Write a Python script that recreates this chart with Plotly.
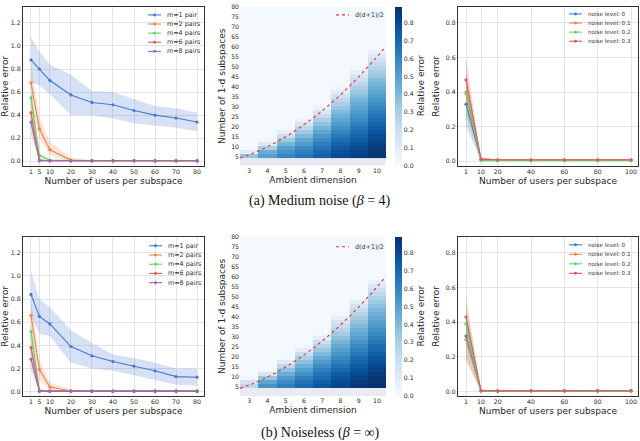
import plotly.graph_objects as go

W, H = 640, 441

# ---- left panels: relative error vs users per subspace (one curve per m)
users = [1, 5, 10, 20, 30, 40, 50, 60, 70, 80]
pair_names = ["m=1 pair", "m=2 pairs", "m=4 pairs", "m=6 pairs", "m=8 pairs"]

med_mean = [
    [0.88, 0.80, 0.70, 0.575, 0.51, 0.49, 0.44, 0.40, 0.375, 0.34],
    [0.68, 0.28, 0.10, 0.01, 0.005, 0.005, 0.005, 0.005, 0.005, 0.005],
    [0.55, 0.05, 0.01, 0.004, 0.004, 0.004, 0.004, 0.004, 0.004, 0.004],
    [0.42, 0.01, 0.004, 0.004, 0.004, 0.004, 0.004, 0.004, 0.004, 0.004],
    [0.34, 0.004, 0.004, 0.004, 0.004, 0.004, 0.004, 0.004, 0.004, 0.004],
]
med_hi = [
    [1.08, 0.95, 0.84, 0.75, 0.61, 0.60, 0.54, 0.48, 0.46, 0.42],
    [0.85, 0.38, 0.17, 0.03, 0.01, 0.01, 0.01, 0.01, 0.01, 0.01],
    [0.70, 0.08, 0.015, 0.006, 0.006, 0.006, 0.006, 0.006, 0.006, 0.006],
    [0.55, 0.02, 0.006, 0.006, 0.006, 0.006, 0.006, 0.006, 0.006, 0.006],
    [0.46, 0.01, 0.006, 0.006, 0.006, 0.006, 0.006, 0.006, 0.006, 0.006],
]
med_lo = [
    [0.68, 0.66, 0.58, 0.40, 0.40, 0.37, 0.33, 0.31, 0.29, 0.26],
    [0.50, 0.20, 0.05, 0.0, 0.0, 0.0, 0.0, 0.0, 0.0, 0.0],
    [0.40, 0.02, 0.0, 0.0, 0.0, 0.0, 0.0, 0.0, 0.0, 0.0],
    [0.30, 0.0, 0.0, 0.0, 0.0, 0.0, 0.0, 0.0, 0.0, 0.0],
    [0.22, 0.0, 0.0, 0.0, 0.0, 0.0, 0.0, 0.0, 0.0, 0.0],
]

clean_mean = [
    [0.84, 0.65, 0.585, 0.39, 0.31, 0.26, 0.22, 0.18, 0.13, 0.125],
    [0.66, 0.19, 0.04, 0.005, 0.004, 0.004, 0.004, 0.004, 0.004, 0.004],
    [0.52, 0.01, 0.004, 0.004, 0.004, 0.004, 0.004, 0.004, 0.004, 0.004],
    [0.38, 0.004, 0.004, 0.004, 0.004, 0.004, 0.004, 0.004, 0.004, 0.004],
    [0.28, 0.004, 0.004, 0.004, 0.004, 0.004, 0.004, 0.004, 0.004, 0.004],
]
clean_hi = [
    [1.04, 0.80, 0.73, 0.53, 0.42, 0.32, 0.29, 0.25, 0.20, 0.20],
    [0.80, 0.28, 0.08, 0.02, 0.006, 0.006, 0.006, 0.006, 0.006, 0.006],
    [0.65, 0.03, 0.006, 0.006, 0.006, 0.006, 0.006, 0.006, 0.006, 0.006],
    [0.50, 0.01, 0.006, 0.006, 0.006, 0.006, 0.006, 0.006, 0.006, 0.006],
    [0.38, 0.01, 0.006, 0.006, 0.006, 0.006, 0.006, 0.006, 0.006, 0.006],
]
clean_lo = [
    [0.65, 0.50, 0.48, 0.25, 0.20, 0.18, 0.14, 0.10, 0.06, 0.05],
    [0.50, 0.10, 0.01, 0.0, 0.0, 0.0, 0.0, 0.0, 0.0, 0.0],
    [0.38, 0.0, 0.0, 0.0, 0.0, 0.0, 0.0, 0.0, 0.0, 0.0],
    [0.26, 0.0, 0.0, 0.0, 0.0, 0.0, 0.0, 0.0, 0.0, 0.0],
    [0.18, 0.0, 0.0, 0.0, 0.0, 0.0, 0.0, 0.0, 0.0, 0.0],
]

# ---- right panels: relative error vs users per subspace (one curve per noise level)
users_r = [1, 10, 20, 40, 60, 80, 100]
noise_names = ["noise level: 0", "noise level: 0.1", "noise level: 0.2", "noise level: 0.3"]

med_r_mean = [
    [0.33, 0.01, 0.005, 0.005, 0.005, 0.005, 0.005],
    [0.40, 0.012, 0.008, 0.008, 0.008, 0.008, 0.008],
    [0.39, 0.005, 0.005, 0.005, 0.005, 0.005, 0.005],
    [0.47, 0.012, 0.008, 0.008, 0.008, 0.008, 0.008],
]
med_r_hi = [
    [0.45, 0.02, 0.008, 0.008, 0.008, 0.008, 0.008],
    [0.53, 0.02, 0.01, 0.01, 0.01, 0.01, 0.01],
    [0.52, 0.015, 0.008, 0.008, 0.008, 0.008, 0.008],
    [0.60, 0.02, 0.01, 0.01, 0.01, 0.01, 0.01],
]
med_r_lo = [
    [0.20, 0.0, 0.0, 0.0, 0.0, 0.0, 0.0],
    [0.27, 0.005, 0.005, 0.005, 0.005, 0.005, 0.005],
    [0.26, 0.0, 0.0, 0.0, 0.0, 0.0, 0.0],
    [0.34, 0.005, 0.005, 0.005, 0.005, 0.005, 0.005],
]

clean_r_mean = [
    [0.32, 0.004, 0.003, 0.004, 0.004, 0.004, 0.004],
    [0.30, 0.006, 0.004, 0.005, 0.005, 0.005, 0.005],
    [0.39, 0.004, 0.003, 0.004, 0.004, 0.004, 0.004],
    [0.43, 0.006, 0.004, 0.005, 0.005, 0.005, 0.005],
]
clean_r_hi = [
    [0.45, 0.01, 0.006, 0.006, 0.006, 0.006, 0.006],
    [0.42, 0.012, 0.006, 0.006, 0.006, 0.006, 0.006],
    [0.52, 0.01, 0.006, 0.006, 0.006, 0.006, 0.006],
    [0.55, 0.012, 0.006, 0.006, 0.006, 0.006, 0.006],
]
clean_r_lo = [
    [0.19, 0.0, 0.0, 0.0, 0.0, 0.0, 0.0],
    [0.17, 0.0, 0.0, 0.0, 0.0, 0.0, 0.0],
    [0.26, 0.0, 0.0, 0.0, 0.0, 0.0, 0.0],
    [0.30, 0.0, 0.0, 0.0, 0.0, 0.0, 0.0],
]

# ---- middle panels: heatmap, ambient dimension vs number of 1-d subspaces
dims = [3, 4, 5, 6, 7, 8, 9, 10]
n_sub = [5.5 + 2 * k for k in range(38)]   # row centres, rows of height 2
heat_floor = 0.012                          # faint value above each coloured block
med_cols = [
    [0.35, 0.10],
    [0.50, 0.45, 0.30, 0.12, 0.03],
    [0.60, 0.55, 0.50, 0.42, 0.33, 0.20, 0.08, 0.02],
    [0.65, 0.62, 0.58, 0.52, 0.47, 0.40, 0.33, 0.25, 0.15, 0.06, 0.02],
    [0.72, 0.70, 0.66, 0.62, 0.58, 0.53, 0.48, 0.42, 0.36, 0.30, 0.22, 0.14, 0.06, 0.02],
    [0.80, 0.78, 0.75, 0.72, 0.68, 0.64, 0.60, 0.56, 0.52, 0.48, 0.44, 0.40, 0.35, 0.30,
     0.24, 0.17, 0.10, 0.04],
    [0.83, 0.82, 0.80, 0.77, 0.74, 0.71, 0.68, 0.65, 0.62, 0.58, 0.55, 0.52, 0.48, 0.45,
     0.42, 0.38, 0.34, 0.30, 0.25, 0.20, 0.14, 0.08, 0.03],
    [0.87, 0.86, 0.85, 0.83, 0.81, 0.79, 0.76, 0.74, 0.71, 0.68, 0.66, 0.63, 0.60, 0.57,
     0.54, 0.51, 0.48, 0.45, 0.42, 0.39, 0.35, 0.31, 0.27, 0.22, 0.17, 0.11, 0.06, 0.02],
]
clean_cols = [
    [0.25, 0.15, 0.03],
    [0.55, 0.48, 0.35, 0.15, 0.03],
    [0.62, 0.58, 0.52, 0.45, 0.36, 0.25, 0.12, 0.03],
    [0.70, 0.66, 0.62, 0.56, 0.50, 0.44, 0.37, 0.30, 0.20, 0.10, 0.03],
    [0.76, 0.73, 0.70, 0.66, 0.62, 0.57, 0.52, 0.46, 0.40, 0.34, 0.27, 0.19, 0.10, 0.03],
    [0.82, 0.80, 0.77, 0.74, 0.70, 0.66, 0.62, 0.58, 0.54, 0.50, 0.46, 0.42, 0.37, 0.32,
     0.27, 0.21, 0.15, 0.08, 0.03],
    [0.87, 0.85, 0.83, 0.80, 0.77, 0.74, 0.71, 0.68, 0.64, 0.61, 0.58, 0.54, 0.51, 0.47,
     0.44, 0.40, 0.36, 0.32, 0.27, 0.22, 0.16, 0.09, 0.03],
    [0.89, 0.88, 0.87, 0.85, 0.83, 0.81, 0.78, 0.76, 0.73, 0.70, 0.68, 0.65, 0.62, 0.59,
     0.56, 0.53, 0.50, 0.47, 0.44, 0.41, 0.37, 0.33, 0.29, 0.24, 0.19, 0.13, 0.07, 0.02],
]
curve_d = [2.5, 3, 3.5, 4, 4.5, 5, 5.5, 6, 6.5, 7, 7.5, 8, 8.5, 9, 9.5, 10, 10.5]
curve_n = [4.375, 6, 7.875, 10, 12.375, 15, 17.875, 21, 24.375, 28, 31.875, 36,
           40.375, 45, 49.875, 55, 60.375]

pal = ["#4878d0", "#ee854a", "#6acc64", "#d65f5f", "#956cb4"]
blues = ["#f7fbff", "#deebf7", "#c6dbef", "#9ecae1", "#6baed6",
         "#4292c6", "#2171b5", "#08519c", "#08306b"]
TXT = "#262626"
FONT = "DejaVu Sans"


def rgba(hx, a):
    h = hx.lstrip("#")
    return "rgba(%d,%d,%d,%.2f)" % (int(h[0:2], 16), int(h[2:4], 16), int(h[4:6], 16), a)


def px_x(v):
    return v / W


def px_y(v):
    return 1 - v / H


fig = go.Figure()


def add_lines(xs, means, his, los, ax):
    xa, ya = "x" + ax, "y" + ax
    for i in range(len(means)):
        c = pal[i]
        fig.add_trace(go.Scatter(
            x=xs + xs[::-1], y=his[i] + los[i][::-1], fill="toself",
            fillcolor=rgba(c, 0.22), line=dict(width=0), mode="lines",
            hoverinfo="skip", showlegend=False, xaxis=xa, yaxis=ya))
    for i in range(len(means)):
        c = pal[i]
        fig.add_trace(go.Scatter(
            x=xs, y=means[i], mode="lines+markers",
            line=dict(color=c, width=1.1), marker=dict(color=c, size=3.2),
            showlegend=False, xaxis=xa, yaxis=ya))


def heat_grid(cols):
    z = []
    for k in range(len(n_sub)):
        z.append([c[k] if k < len(c) else heat_floor for c in cols])
    return z


def add_heat(cols, ax, cb_mid):
    xa, ya = "x" + ax, "y" + ax
    fig.add_shape(type="rect", xref=xa, yref=ya, x0=2.5, x1=10.5, y0=0, y1=4.5,
                  fillcolor="#eaeaf2", line=dict(width=0), layer="below")
    fig.add_trace(go.Heatmap(
        x=dims, y=n_sub, z=heat_grid(cols), zmin=0, zmax=0.89,
        colorscale=[[i / 8, c] for i, c in enumerate(blues)],
        xaxis=xa, yaxis=ya, hoverinfo="skip",
        colorbar=dict(x=px_x(395), xanchor="left", y=px_y(cb_mid), yanchor="middle",
                      len=160 / H, thickness=7, outlinewidth=0, ticks="",
                      xpad=0, ypad=0,
                      tickvals=[0, 0.1, 0.2, 0.3, 0.4, 0.5, 0.6, 0.7, 0.8],
                      tickformat=".1f", tickfont=dict(size=6.2, color=TXT, family=FONT))))
    fig.add_annotation(x=px_x(421), y=px_y(cb_mid), xref="paper", yref="paper",
                       text="Relative error", textangle=-90, showarrow=False,
                       yanchor="middle", font=dict(size=9, color=TXT, family=FONT))
    fig.add_trace(go.Scatter(
        x=curve_d, y=curve_n, mode="lines", line=dict(color="#ee3030", width=1.1, dash="dot",
                                                      shape="spline"),
        showlegend=False, xaxis=xa, yaxis=ya))


def add_legend(x0, y0, names, step, size, dash=None, marker=True, colors=pal):
    for i, nm in enumerate(names):
        c = colors[i]
        y = y0 + i * step
        fig.add_shape(type="line", xref="paper", yref="paper",
                      x0=px_x(x0), x1=px_x(x0 + 13), y0=px_y(y), y1=px_y(y),
                      line=dict(color=c, width=1.1, dash=dash))
        if marker:
            fig.add_shape(type="circle", xref="paper", yref="paper",
                          x0=px_x(x0 + 5), x1=px_x(x0 + 8), y0=px_y(y + 1.5), y1=px_y(y - 1.5),
                          fillcolor=c, line=dict(width=0))
        fig.add_annotation(x=px_x(x0 + 17), y=px_y(y), xref="paper", yref="paper",
                           text=nm, showarrow=False, xanchor="left", yanchor="middle",
                           font=dict(size=size, color="#333333", family=FONT))


add_lines(users, med_mean, med_hi, med_lo, "")
add_heat(med_cols, "2", 83)
add_lines(users_r, med_r_mean, med_r_hi, med_r_lo, "3")
add_lines(users, clean_mean, clean_hi, clean_lo, "4")
add_heat(clean_cols, "5", 315.25)
add_lines(users_r, clean_r_mean, clean_r_hi, clean_r_lo, "6")

add_legend(148, 11, pair_names, 9.2, 6.4)
add_legend(569, 10, noise_names, 9.2, 5.6)
add_legend(336, 11, ["d(d+1)/2"], 9.2, 6.4, dash="dot", marker=False, colors=["#ee3030"])
add_legend(149, 244, pair_names, 9.3, 6.4)
add_legend(569, 243, noise_names, 9.6, 5.6)
add_legend(336, 245, ["d(d+1)/2"], 9.2, 6.4, dash="dot", marker=False, colors=["#ee3030"])

top = [px_y(163), px_y(3)]
bot = [px_y(395.5), px_y(235)]
dom_l = [px_x(23), px_x(204)]
dom_m = [px_x(240), px_x(386)]
dom_r = [px_x(458), px_x(638)]

tickf = dict(size=6.2, color=TXT, family=FONT)
titlef = dict(size=9, color=TXT, family=FONT)
line_ax = dict(showline=True, mirror=True, linecolor="#333333", linewidth=1.1,
               showgrid=True, gridcolor="#e4e4e4", gridwidth=1, zeroline=False,
               ticks="", tickfont=tickf)
heat_ax = dict(showline=False, showgrid=False, zeroline=False, ticks="", tickfont=tickf)

layout = dict(width=W, height=H, margin=dict(l=0, r=0, t=0, b=0),
              paper_bgcolor="white", plot_bgcolor="white", showlegend=False)

for ax, dom_y in [("", top), ("4", bot)]:
    n1 = ax
    n2 = "2" if ax == "" else "5"
    n3 = "3" if ax == "" else "6"
    layout["xaxis" + n1] = dict(line_ax, domain=dom_l, range=[-2.8, 83.3],
                                tickvals=users, anchor="y" + n1,
                                title=dict(text="Number of users per subspace", font=titlef,
                                           standoff=3))
    layout["yaxis" + n1] = dict(line_ax, domain=dom_y, range=[-0.037, 1.338],
                                tickvals=[0, 0.2, 0.4, 0.6, 0.8, 1.0, 1.2], tickformat=".1f",
                                anchor="x" + n1,
                                title=dict(text="Relative error", font=titlef, standoff=3))
    layout["xaxis" + n2] = dict(heat_ax, domain=dom_m, range=[2.5, 10.5], tickvals=dims,
                                anchor="y" + n2,
                                title=dict(text="Ambient dimension", font=titlef, standoff=3))
    layout["yaxis" + n2] = dict(heat_ax, domain=dom_y, range=[0.6, 80.05],
                                tickvals=list(range(5, 81, 5)), anchor="x" + n2,
                                title=dict(text="Number of 1-d subspaces", font=titlef,
                                           standoff=3))
    layout["xaxis" + n3] = dict(line_ax, domain=dom_r, range=[-3.8, 104.2],
                                tickvals=users_r, anchor="y" + n3,
                                title=dict(text="Number of users per subspace", font=titlef,
                                           standoff=3))
    layout["yaxis" + n3] = dict(line_ax, domain=dom_y, range=[-0.025, 0.892],
                                tickvals=[0, 0.2, 0.4, 0.6, 0.8], tickformat=".1f",
                                anchor="x" + n3,
                                title=dict(text="Relative error", font=titlef, standoff=4))

fig.update_layout(**layout)

capf = dict(size=14, color="#111111", family="Liberation Serif")
fig.add_annotation(x=0.5, y=px_y(199), xref="paper", yref="paper", showarrow=False,
                   yanchor="middle", text="(a) Medium noise (<i>β</i> = 4)", font=capf)
fig.add_annotation(x=0.5, y=px_y(433), xref="paper", yref="paper", showarrow=False,
                   yanchor="middle", text="(b) Noiseless (<i>β</i> = ∞)", font=capf)

fig.write_html("out.html", config={"displayModeBar": False},
               post_script="document.body.style.margin='0';"
                           "document.body.style.overflow='hidden';")
